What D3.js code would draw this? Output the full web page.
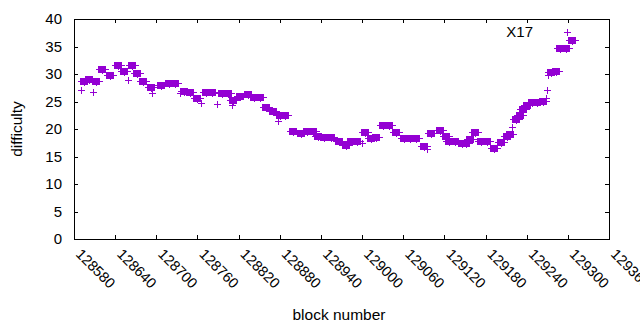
<!DOCTYPE html>
<html>
<head>
<meta charset="utf-8">
<script src="https://cdn.jsdelivr.net/npm/d3@7"></script>
<style>
  body { margin: 0; background: #fff; }
  text { font-family: "Liberation Sans", Arial, sans-serif; fill: #000; }
</style>
</head>
<body>
<div id="chart"></div>
<script>
// isolated "+" points
const plusBlock = [128590, 128608, 128659, 128694, 128735, 128765, 128788, 128810, 128878, 129000, 129095, 129219, 129268, 129270, 129271];
const plusDiff  = [27.1, 26.8, 29.0, 26.6, 26.5, 24.7, 24.5, 24.4, 21.5, 17.4, 16.4, 20.4, 25.6, 27.1, 29.9];

// runs of blocks packed so tightly the markers merge into solid blobs
const denseBlock = [128595, 128602, 128612, 128621, 128632, 128644, 128653, 128665, 128672, 128681,
                    128692, 128707, 128719, 128727, 128740, 128749, 128759, 128772, 128781, 128796,
                    128805, 128812, 128822, 128834, 128842, 128851, 128860, 128870, 128880, 128888,
                    128899, 128911, 128920, 128928, 128936, 128944, 128955, 128966, 128977, 128984,
                    128993, 129004, 129013, 129020, 129031, 129039, 129049, 129061, 129070, 129079,
                    129090, 129100, 129114, 129122, 129127, 129136, 129146, 129152, 129157, 129165,
                    129173, 129182, 129192, 129203, 129211, 129216, 129224, 129230, 129235, 129240,
                    129248, 129255, 129264, 129275, 129283, 129289, 129297, 129306];
const denseDiff  = [28.7, 29.1, 28.7, 30.9, 29.9, 31.6, 30.6, 31.7, 30.2, 28.7,
                    27.6, 28.0, 28.4, 28.4, 26.9, 26.8, 25.6, 26.8, 26.8, 26.5,
                    26.5, 25.3, 26.0, 26.4, 25.8, 25.8, 24.0, 23.3, 22.5, 22.5,
                    19.6, 19.2, 19.6, 19.6, 18.7, 18.5, 18.5, 17.8, 17.1, 17.8,
                    17.8, 19.5, 18.4, 18.5, 20.8, 20.8, 19.5, 18.3, 18.3, 18.3,
                    16.9, 19.2, 19.9, 18.7, 17.8, 17.8, 17.4, 17.5, 18.1, 19.5,
                    17.9, 17.9, 16.5, 17.6, 18.7, 19.1, 21.9, 22.5, 23.6, 24.4,
                    24.9, 24.9, 25.1, 30.4, 30.5, 34.8, 34.7, 36.1];

const xTicks = [128580, 128640, 128700, 128760, 128820, 128880, 128940, 129000, 129060, 129120, 129180, 129240, 129300, 129360];
const yTicks = [0, 5, 10, 15, 20, 25, 30, 35, 40];
const seriesName = "X17";

const W = 640, H = 330;
const margin = { top: 19, right: 31, bottom: 91, left: 74 };
const color = "#9400d3";

const svg = d3.select("#chart").append("svg")
    .attr("width", W)
    .attr("height", H);

const x = d3.scaleLinear()
    .domain([xTicks[0], xTicks[xTicks.length - 1]])
    .range([margin.left, W - margin.right]);

const y = d3.scaleLinear()
    .domain([0, 40])
    .range([H - margin.bottom, margin.top]);

// tics point inward on all four sides (mirrored)
svg.append("g")
    .attr("transform", `translate(0,${y(0)})`)
    .call(d3.axisBottom(x).tickValues(xTicks).tickSize(-4).tickFormat(""));
svg.append("g")
    .attr("transform", `translate(0,${y(40)})`)
    .call(d3.axisTop(x).tickValues(xTicks).tickSize(-4).tickFormat(""));
svg.append("g")
    .attr("transform", `translate(${x.range()[0]},0)`)
    .call(d3.axisLeft(y).tickValues(yTicks).tickSize(-4).tickFormat(""));
svg.append("g")
    .attr("transform", `translate(${x.range()[1]},0)`)
    .call(d3.axisRight(y).tickValues(yTicks).tickSize(-4).tickFormat(""));

svg.selectAll(".domain").remove();
svg.selectAll(".tick line")
    .attr("stroke", "#000")
    .attr("shape-rendering", "crispEdges");

// border
svg.append("rect")
    .attr("x", x.range()[0] + 0.5)
    .attr("y", y.range()[1] + 0.5)
    .attr("width", x.range()[1] - x.range()[0])
    .attr("height", y.range()[0] - y.range()[1])
    .attr("fill", "none")
    .attr("stroke", "#000")
    .attr("shape-rendering", "crispEdges");

// y tick labels
svg.selectAll(".ylab")
    .data(yTicks)
    .enter().append("text")
    .attr("class", "ylab")
    .attr("x", 62)
    .attr("y", d => y(d))
    .attr("dy", "0.36em")
    .attr("text-anchor", "end")
    .style("font-size", "15px")
    .text(d => d);

// x tick labels, rotated by -45 in gnuplot terms
svg.selectAll(".xlab")
    .data(xTicks)
    .enter().append("text")
    .attr("class", "xlab")
    .attr("transform", d => `translate(${x(d) + 1},255) rotate(45)`)
    .style("font-size", "14.5px")
    .text(d => d);

// axis titles
svg.append("text")
    .attr("x", 339)
    .attr("y", 320)
    .attr("text-anchor", "middle")
    .style("font-size", "15.5px")
    .text("block number");

svg.append("text")
    .attr("transform", "translate(22,129) rotate(-90)")
    .attr("text-anchor", "middle")
    .style("font-size", "15.5px")
    .text("difficulty");

const plusPath = "M-3.5,0H3.5M0,-3.5V3.5";

// dense runs
const dense = denseBlock.map((b, i) => ({ b, d: denseDiff[i] }));
const dg = svg.append("g");
dg.selectAll("rect")
    .data(dense)
    .enter().append("rect")
    .attr("x", p => Math.round(x(p.b)) - 4)
    .attr("y", p => Math.round(y(p.d)) - 3)
    .attr("width", 8)
    .attr("height", 7)
    .attr("fill", color)
    .attr("shape-rendering", "crispEdges");
dg.selectAll("path")
    .data(dense)
    .enter().append("path")
    .attr("transform", p => `translate(${Math.round(x(p.b)) + 0.5},${Math.round(y(p.d)) + 0.5})`)
    .attr("d", "M-7,0H6M0,-4V4")
    .attr("stroke", color)
    .attr("fill", "none")
    .attr("shape-rendering", "crispEdges");

// single points
const pts = plusBlock.map((b, i) => ({ b, d: plusDiff[i] }));
svg.append("g").selectAll("path")
    .data(pts)
    .enter().append("path")
    .attr("transform", p => `translate(${Math.round(x(p.b)) + 0.5},${Math.round(y(p.d)) + 0.5})`)
    .attr("d", plusPath)
    .attr("stroke", color)
    .attr("fill", "none")
    .attr("shape-rendering", "crispEdges");

// key
svg.append("text")
    .attr("x", 533)
    .attr("y", 32)
    .attr("dy", "0.36em")
    .attr("text-anchor", "end")
    .style("font-size", "15px")
    .text(seriesName);
svg.append("path")
    .attr("transform", "translate(567.5,32.5)")
    .attr("d", plusPath)
    .attr("stroke", color)
    .attr("fill", "none")
    .attr("shape-rendering", "crispEdges");
</script>
</body>
</html>
